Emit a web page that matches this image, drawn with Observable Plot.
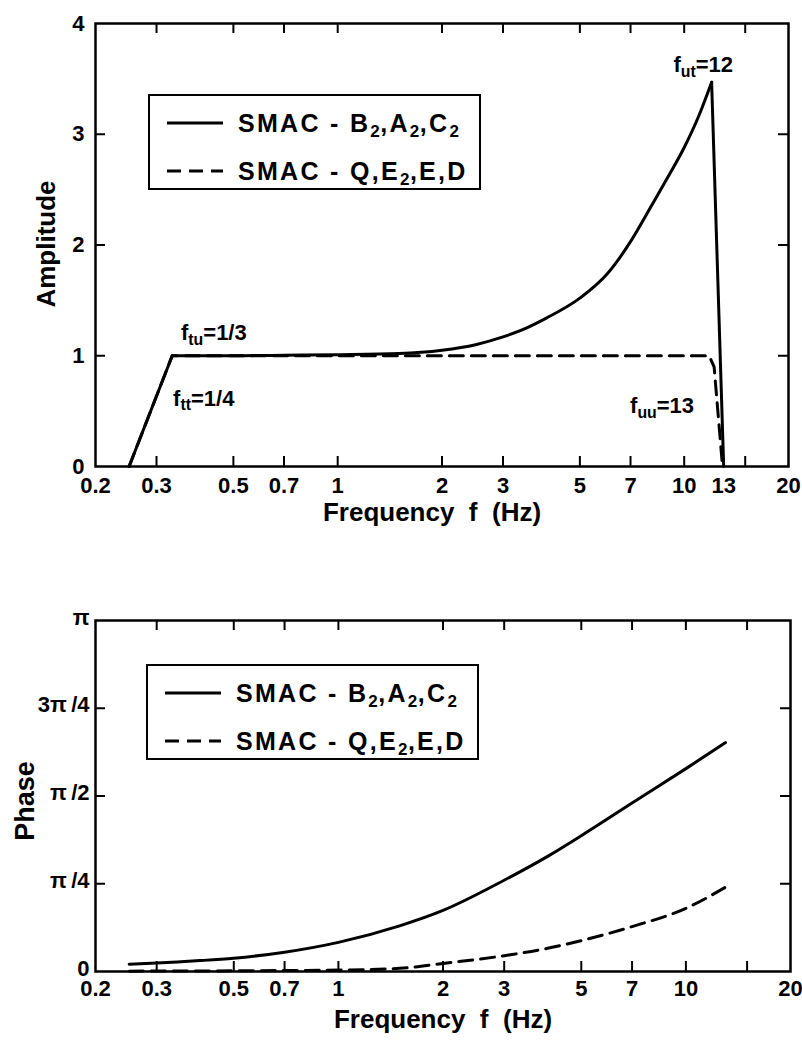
<!DOCTYPE html>
<html>
<head>
<meta charset="utf-8">
<script src="https://cdn.jsdelivr.net/npm/d3@7"></script>
<script src="https://cdn.jsdelivr.net/npm/@observablehq/plot@0.6"></script>
<style>
  body { margin: 0; background: #fff; }
  #wrap { position: relative; width: 802px; height: 1040px; font-family: "Liberation Sans", Arial, sans-serif; }
  #wrap svg.plot { display: block; }
  .legend { position: absolute; border: 2px solid #000; background: #fff; box-sizing: border-box;
            font-weight: bold; font-size: 25px; letter-spacing: 2.3px; color: #000; }
  .legend .row { position: absolute; left: 17px; height: 30px; line-height: 30px; white-space: nowrap; display: flex; align-items: center; }
  .legend .row span { margin-left: 15px; }
  .legend sub { font-size: 0.68em; vertical-align: -0.3em; line-height: 0; letter-spacing: 0.5px; }
</style>
</head>
<body>
<div id="wrap"></div>
<script>
// ---------- data ----------
const seriesNames = ["SMAC - B<sub>2</sub>,A<sub>2</sub>,C<sub>2</sub>", "SMAC - Q,E<sub>2</sub>,E,D"];

// Amplitude panel
const ampFreqSolid = [0.25, 0.333, 0.5, 0.7, 1, 1.5, 2, 2.5, 3, 3.5, 4, 5, 6, 7, 8, 9, 10, 11, 12, 13];
const ampSolid     = [0, 1.0, 1.0, 1.005, 1.01, 1.02, 1.05, 1.1, 1.17, 1.25, 1.34, 1.52, 1.74, 2.03, 2.34, 2.62, 2.88, 3.16, 3.47, 0];
const ampFreqDashed = [0.25, 0.333, 11.8, 12.2, 12.9];
const ampDashed     = [0, 1.0, 1.0, 0.9, 0];
const ampTicks = [0, 1, 2, 3, 4];
const ampInnerTicks = [1, 2, 3];
const ampXLabels = [0.2, 0.3, 0.5, 0.7, 1, 2, 3, 5, 7, 10, 13, 20];
const xTickMarks = [0.3, 0.5, 0.7, 1, 2, 3, 5, 7, 10, 15];
const ampNotes = [
  {f: 0.353, v: 1.14, label: "f_tu=1/3"},
  {f: 0.335, v: 0.55, label: "f_tt=1/4"},
  {f: 9.31,  v: 3.56, label: "f_ut=12"},
  {f: 6.98,  v: 0.48, label: "f_uu=13"}
];

// Phase panel (values in units of π)
const phFreqSolid = [0.25, 0.3, 0.4, 0.5, 0.7, 1, 1.5, 2, 3, 4, 5, 7, 10, 13];
const phSolid     = [0.021, 0.024, 0.031, 0.038, 0.055, 0.083, 0.13, 0.174, 0.26, 0.328, 0.387, 0.48, 0.578, 0.652];
const phFreqDashed = [0.25, 0.5, 1, 1.5, 2, 3, 4, 5, 7, 10, 13];
const phDashed     = [0.001, 0.002, 0.004, 0.009, 0.023, 0.045, 0.066, 0.088, 0.128, 0.18, 0.24];
const phTickValues = [0, 0.25, 0.5, 0.75, 1];
const phTickLabels = ["0", "π\u2009/4", "π\u2009/2", "3π\u2009/4", "π"];
const phInnerTicks = [0.25, 0.5, 0.75];
const phXLabels = [0.2, 0.3, 0.5, 0.7, 1, 2, 3, 5, 7, 10, 20];

const xTitle = "Frequency\u00a0\u00a0f\u00a0\u00a0(Hz)";

// ---------- helpers ----------
const zip = (fs, vs) => fs.map((f, i) => ({f, v: vs[i]}));
const font = "Liberation Sans, Arial, sans-serif";
const X_DOMAIN = [0.2, 20];
const TICK_PX = 10;

function subscriptify(svg) {
  d3.select(svg).selectAll("text").each(function () {
    const t = this.textContent;
    const m = /^f_([a-z]+)(=.*)$/.exec(t);
    if (!m) return;
    const sel = d3.select(this);
    sel.text(null);
    sel.append("tspan").text("f");
    sel.append("tspan").attr("font-size", "0.72em").attr("dy", "0.3em").text(m[1]);
    sel.append("tspan").attr("dy", "-0.22em").text(m[2]);
  });
}

// inward tick marks on all four sides of the frame
function frameTicks(xTicks, yTicks, frameW, frameH) {
  const st = {stroke: "black", strokeWidth: 2};
  return [
    Plot.tickX(xTicks, {x: d => d, insetTop: frameH - TICK_PX, ...st}),
    Plot.tickX(xTicks, {x: d => d, insetBottom: frameH - TICK_PX, ...st}),
    Plot.tickY(yTicks, {y: d => d, insetRight: frameW - TICK_PX, ...st}),
    Plot.tickY(yTicks, {y: d => d, insetLeft: frameW - TICK_PX, ...st})
  ];
}

// ---------- amplitude plot ----------
const topW = 802, topH = 540, topML = 95, topMR = 14, topMT = 23, topMB = 74;
const topFH = topH - topMT - topMB, topFW = topW - topML - topMR;
const ampSolidData = zip(ampFreqSolid, ampSolid);
const iPeak = ampSolid.indexOf(Math.max(...ampSolid));
const ampPlot = Plot.plot({
  width: topW, height: topH,
  marginLeft: topML, marginRight: topMR, marginTop: topMT, marginBottom: topMB,
  x: {type: "log", domain: X_DOMAIN, axis: null},
  y: {domain: [0, 4], axis: null},
  style: {fontFamily: font, background: "white", color: "black", overflow: "visible"},
  marks: [
    Plot.line(zip(ampFreqDashed, ampDashed), {x: "f", y: "v", stroke: "black", strokeWidth: 3, strokeDasharray: "14,8"}),
    Plot.line(ampSolidData.slice(0, 2), {x: "f", y: "v", stroke: "black", strokeWidth: 3}),
    Plot.line(ampSolidData.slice(1, iPeak + 1), {x: "f", y: "v", stroke: "black", strokeWidth: 3, curve: "monotone-x"}),
    Plot.line(ampSolidData.slice(iPeak), {x: "f", y: "v", stroke: "black", strokeWidth: 3}),
    ...frameTicks(xTickMarks, ampInnerTicks, topFW, topFH),
    Plot.frame({stroke: "black", strokeWidth: 2.5}),
    Plot.text(ampXLabels, {x: d => d, frameAnchor: "bottom", lineAnchor: "middle", textAnchor: "middle", dy: 19, text: d => String(d), fontSize: 22, fontWeight: "bold"}),
    Plot.text(ampTicks, {y: d => d, frameAnchor: "left", lineAnchor: "middle", dx: -11, textAnchor: "end", text: d => String(d), fontSize: 22, fontWeight: "bold"}),
    Plot.text([xTitle], {frameAnchor: "bottom", lineAnchor: "middle", textAnchor: "middle", dx: -10, dy: 46, text: d => d, fontSize: 26, fontWeight: "bold"}),
    Plot.text(["Amplitude"], {frameAnchor: "left", lineAnchor: "middle", textAnchor: "middle", dx: -49, dy: -1, rotate: -90, text: d => d, fontSize: 26, fontWeight: "bold"}),
    Plot.text(ampNotes, {x: "f", y: "v", text: "label", textAnchor: "start", lineAnchor: "bottom", fontSize: 22, fontWeight: "bold"})
  ]
});
subscriptify(ampPlot);

// ---------- phase plot ----------
const botW = 802, botH = 500, botML = 95, botMR = 12, botMT = 80, botMB = 69;
const botFH = botH - botMT - botMB, botFW = botW - botML - botMR;
const phPlot = Plot.plot({
  width: botW, height: botH,
  marginLeft: botML, marginRight: botMR, marginTop: botMT, marginBottom: botMB,
  x: {type: "log", domain: X_DOMAIN, axis: null},
  y: {domain: [0, 1], axis: null},
  style: {fontFamily: font, background: "white", color: "black", overflow: "visible"},
  marks: [
    Plot.line(zip(phFreqDashed, phDashed), {x: "f", y: "v", stroke: "black", strokeWidth: 3, strokeDasharray: "14,8", curve: "monotone-x"}),
    Plot.line(zip(phFreqSolid, phSolid), {x: "f", y: "v", stroke: "black", strokeWidth: 3, curve: "monotone-x"}),
    ...frameTicks(xTickMarks, phInnerTicks, botFW, botFH),
    Plot.frame({stroke: "black", strokeWidth: 2.5}),
    Plot.text(phXLabels, {x: d => d, frameAnchor: "bottom", lineAnchor: "middle", textAnchor: "middle", dy: 17, text: d => String(d), fontSize: 22, fontWeight: "bold"}),
    Plot.text(phTickValues, {y: d => d, frameAnchor: "left", lineAnchor: "middle", dx: -6, dy: -3, textAnchor: "end", text: (d, i) => phTickLabels[i], fontSize: 22, fontWeight: "bold"}),
    Plot.text([xTitle], {frameAnchor: "bottom", lineAnchor: "middle", textAnchor: "middle", dx: 0, dy: 48, text: d => d, fontSize: 26, fontWeight: "bold"}),
    Plot.text(["Phase"], {frameAnchor: "left", lineAnchor: "middle", textAnchor: "middle", dx: -70, dy: 5, rotate: -90, text: d => d, fontSize: 27, fontWeight: "bold"})
  ]
});

const wrap = document.getElementById("wrap");
ampPlot.classList.add("plot");
phPlot.classList.add("plot");
wrap.appendChild(ampPlot);
wrap.appendChild(phPlot);

// ---------- legends ----------
function legend(left, top) {
  const box = document.createElement("div");
  box.className = "legend";
  Object.assign(box.style, {left: left + "px", top: top + "px", width: "333px", height: "96px"});
  seriesNames.forEach((name, i) => {
    const row = document.createElement("div");
    row.className = "row";
    row.style.top = (i === 0 ? 12 : 60) + "px";
    const dash = i === 0 ? "" : 'stroke-dasharray="14,8"';
    row.innerHTML = `<svg width="56" height="30"><line x1="0" x2="56" y1="15" y2="15" stroke="black" stroke-width="3" ${dash}/></svg><span>${name}</span>`;
    box.appendChild(row);
  });
  wrap.appendChild(box);
}
legend(148, 94);
legend(146, 664);
</script>
</body>
</html>
